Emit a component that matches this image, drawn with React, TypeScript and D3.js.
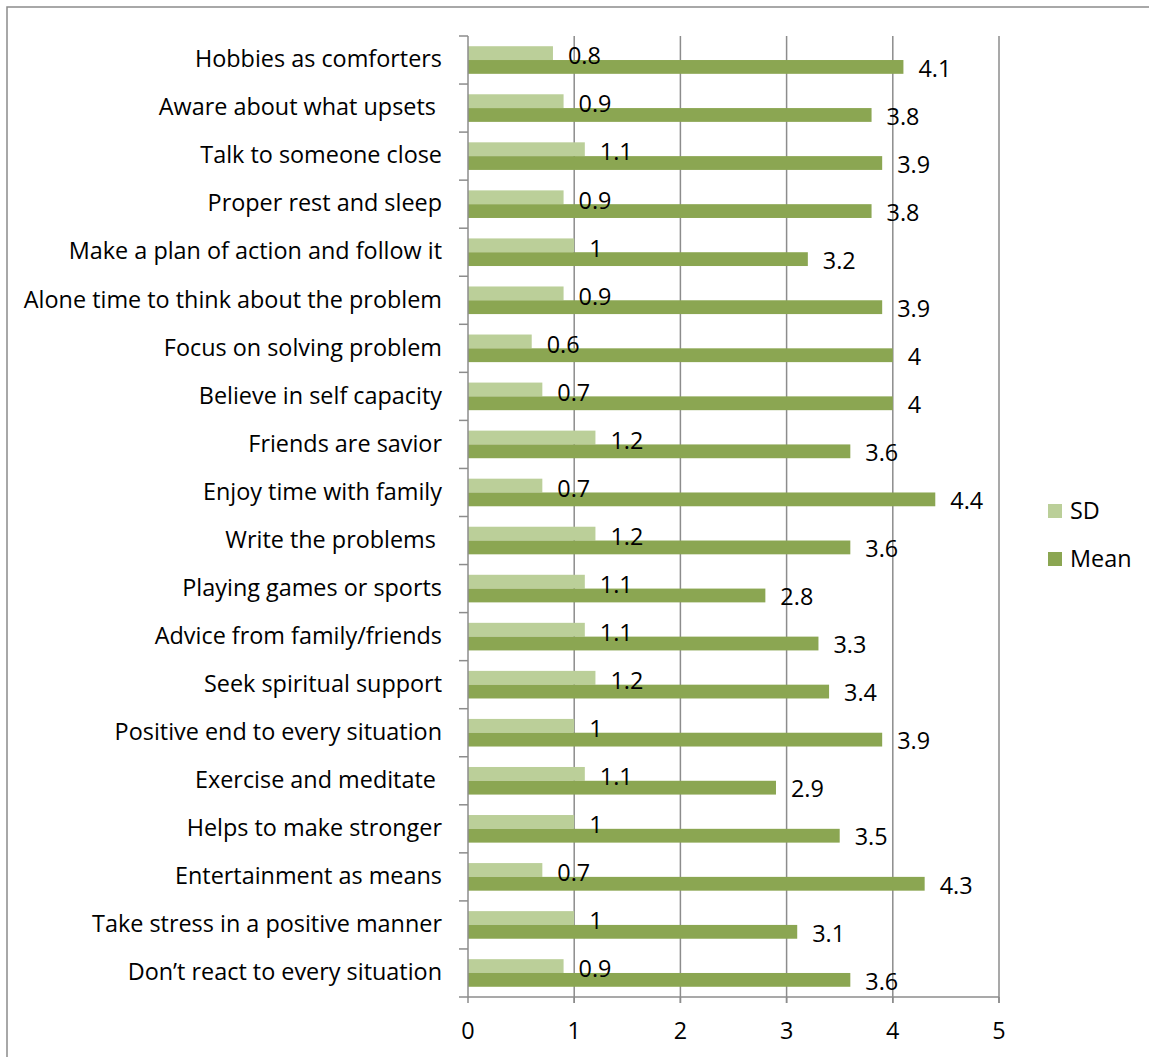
import React from "react";
import * as d3 from "d3";

const categories = [
  "Hobbies as comforters",
  "Aware about what upsets ",
  "Talk to someone close",
  "Proper rest and sleep",
  "Make a plan of action and follow it",
  "Alone time to think about the problem",
  "Focus on solving problem",
  "Believe in self capacity",
  "Friends are savior",
  "Enjoy time with family",
  "Write the problems ",
  "Playing games or sports",
  "Advice from family/friends",
  "Seek spiritual support",
  "Positive end to every situation",
  "Exercise and meditate ",
  "Helps to make stronger",
  "Entertainment as means",
  "Take stress in a positive manner",
  "Don\u2019t react to every situation",
];
const sdValues = [0.8, 0.9, 1.1, 0.9, 1, 0.9, 0.6, 0.7, 1.2, 0.7, 1.2, 1.1, 1.1, 1.2, 1, 1.1, 1, 0.7, 1, 0.9];
const meanValues = [4.1, 3.8, 3.9, 3.8, 3.2, 3.9, 4, 4, 3.6, 4.4, 3.6, 2.8, 3.3, 3.4, 3.9, 2.9, 3.5, 4.3, 3.1, 3.6];
const xTicks = [0, 1, 2, 3, 4, 5];
const seriesNames = ["SD", "Mean"];

const SD_COLOR = "#bbcf99";
const MEAN_COLOR = "#8ba652";
const GRID = "#8c8c8c";
const FONT = "'Open Sans', sans-serif";

export default function App() {
  const W = 1149, H = 1057;
  const left = 468, right = 999, top = 36, bottom = 997;
  const x = d3.scaleLinear().domain([0, 5]).range([left, right]);
  const y = d3.scaleBand().domain(categories).range([top, bottom]);
  const bw = y.bandwidth();
  const barH = 13.8;
  const off = (bw - 2 * barH) / 2;
  const fs = 23.4;

  return (
    <svg width={W} height={H} style={{ position: "absolute", left: 0, top: 0 }} fontFamily={FONT}>
      <rect x={7} y={7} width={W + 10} height={H + 10} fill="#fff" stroke="#8c8c8c" strokeWidth={1.5} />
      {/* gridlines */}
      {xTicks.slice(1).map((t) => (
        <line key={"g" + t} x1={x(t)} x2={x(t)} y1={top} y2={bottom + 6} stroke={GRID} strokeWidth={1.5} />
      ))}
      {/* bars */}
      {categories.map((c, i) => {
        const y0 = y(c)! + off;
        return (
          <g key={c}>
            <rect x={x(0)} y={y0} width={x(sdValues[i]) - x(0)} height={barH} fill={SD_COLOR} />
            <rect x={x(0)} y={y0 + barH} width={x(meanValues[i]) - x(0)} height={barH} fill={MEAN_COLOR} />
            <text x={x(sdValues[i]) + 15} y={y0 + barH / 2 + 5} fontSize={fs} dominantBaseline="middle" fill="#000">
              {String(sdValues[i])}
            </text>
            <text x={x(meanValues[i]) + 15} y={y0 + barH * 1.5 + 3.5} fontSize={fs} dominantBaseline="middle" fill="#000">
              {String(meanValues[i])}
            </text>
          </g>
        );
      })}
      {/* y axis */}
      <line x1={left} x2={left} y1={top} y2={bottom} stroke={GRID} strokeWidth={1.5} />
      {d3.range(categories.length + 1).map((k) => {
        const yy = top + k * bw;
        return <line key={"yt" + k} x1={left - 9} x2={left} y1={yy} y2={yy} stroke={GRID} strokeWidth={1.5} />;
      })}
      {categories.map((c) => (
        <text key={"l" + c} x={442} y={y(c)! + bw / 2 + 1} fontSize={fs} textAnchor="end" dominantBaseline="middle" fill="#000" style={{ whiteSpace: "pre" }}>
          {c}
        </text>
      ))}
      {/* x axis */}
      <line x1={left} x2={right} y1={bottom} y2={bottom} stroke={GRID} strokeWidth={1.5} />
      {xTicks.map((t) => (
        <g key={"xt" + t}>
          <line x1={x(t)} x2={x(t)} y1={bottom} y2={bottom + 6} stroke={GRID} strokeWidth={1.5} />
          <text x={x(t)} y={1033} fontSize={fs} textAnchor="middle" dominantBaseline="middle" fill="#000">
            {t}
          </text>
        </g>
      ))}
      {/* legend */}
      {seriesNames.map((s, i) => (
        <g key={s}>
          <rect x={1048} y={504 + i * 48} width={14} height={14} fill={i === 0 ? SD_COLOR : MEAN_COLOR} />
          <text x={1070} y={513 + i * 48} fontSize={fs} dominantBaseline="middle" fill="#000">
            {s}
          </text>
        </g>
      ))}
    </svg>
  );
}
